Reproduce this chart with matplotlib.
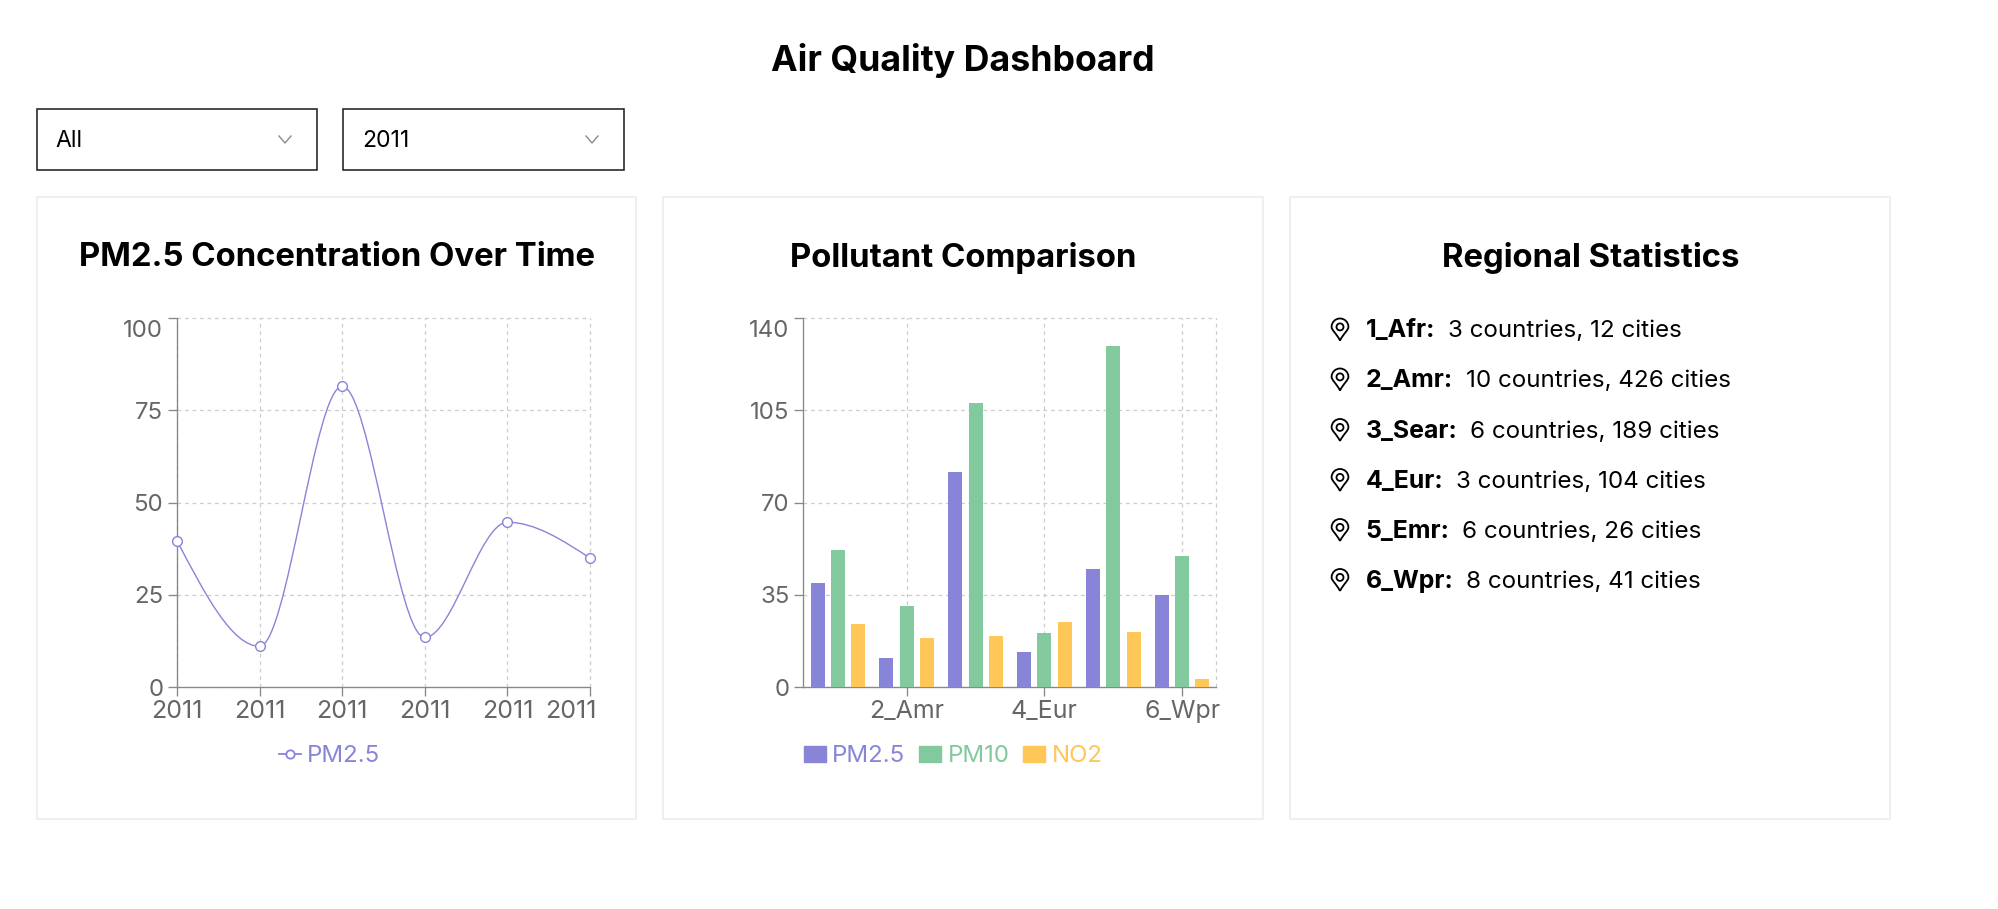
import matplotlib
matplotlib.use("Agg")
import matplotlib.pyplot as plt
import numpy as np
from matplotlib.lines import Line2D
from matplotlib.patches import Patch, Rectangle, PathPatch, Circle
from matplotlib.path import Path
from matplotlib.transforms import ScaledTranslation

# ---- data ----
dashboard_title = "Air Quality Dashboard"
filter_values = ["All", "2011"]
regions = ["1_Afr", "2_Amr", "3_Sear", "4_Eur", "5_Emr", "6_Wpr"]
line_labels = ["2011", "2011", "2011", "2011", "2011", "2011"]
pm25 = [39.7, 11.1, 81.5, 13.5, 44.7, 35.0]
pm10 = [52.0, 30.8, 107.9, 20.7, 129.4, 49.9]
no2 = [23.9, 18.8, 19.6, 24.9, 21.0, 3.2]
countries = [3, 10, 6, 3, 6, 8]
cities = [12, 426, 189, 104, 26, 41]
line_yticks = [0, 25, 50, 75, 100]
bar_yticks = [0, 35, 70, 105, 140]

PURPLE, GREEN, ORANGE = "#8884d8", "#82ca9d", "#ffc658"
TICK_TXT, AXIS_C, GRID_C = "#666666", "#888888", "#cccccc"
W, H = 1999, 909
plt.rcParams["font.family"] = ["Inter", "DejaVu Sans"]
plt.rcParams["axes.unicode_minus"] = False
TICK_PT = 17.3
XTICK_PT = 18.0
STAT_PT = 17.4
STAT_BOLD_PT = 17.9

fig = plt.figure(figsize=(W / 100, H / 100), dpi=100, facecolor="white")
bg = fig.add_axes([0, 0, 1, 1], zorder=0)
bg.set_xlim(0, W)
bg.set_ylim(H, 0)
bg.axis("off")


def box(x0, y0, x1, y1, ec, lw):
    bg.add_patch(Rectangle((x0, y0), x1 - x0, y1 - y0, fc="white", ec=ec, lw=lw))


# page title
bg.text(963, 61, dashboard_title, ha="center", va="center", fontsize=25.7, fontweight="bold", color="black")

# dropdowns
for (x0, x1), value in zip([(37, 317.5), (343.5, 624.5)], filter_values):
    box(x0, 108.5, x1, 170, "#222222", 1.15)
    bg.text(x0 + 18.5, 141, value, ha="left", va="center", fontsize=16.6, color="black")
    cx = x1 - 32.5
    bg.plot([cx - 6, cx, cx + 6], [136, 143, 136], color="#8a8a8a", lw=1.0)

# cards
card_titles = ["PM2.5 Concentration Over Time", "Pollutant Comparison", "Regional Statistics"]
for (x0, x1), t in zip([(37, 636.5), (663.5, 1263.5), (1290.5, 1890.5)], card_titles):
    box(x0, 196.5, x1, 818.5, "#eeeeee", 1.3)
    bg.text((x0 + x1) / 2, 257.5, t, ha="center", va="center", fontsize=23.7, fontweight="bold", color="black")


def chart_axes(x0, x1, y0=318.0, y1=687.3):
    ax = fig.add_axes([x0 / W, 1 - y1 / H, (x1 - x0) / W, (y1 - y0) / H], zorder=2)
    ax.patch.set_alpha(0)
    for s in ("top", "right"):
        ax.spines[s].set_visible(False)
    for s in ("left", "bottom"):
        ax.spines[s].set_color(AXIS_C)
        ax.spines[s].set_linewidth(0.95)
    ax.tick_params(length=6.3, width=0.95, color=AXIS_C, labelcolor=TICK_TXT)
    ax.tick_params(axis="y", pad=3.6, labelsize=TICK_PT)
    ax.tick_params(axis="x", pad=2.5, labelsize=XTICK_PT)
    ax.set_axisbelow(True)
    ax.grid(True, color=GRID_C, lw=0.9, linestyle=(0, (3, 3)), clip_on=False)
    for gl in ax.get_xgridlines() + ax.get_ygridlines():
        gl.set_clip_on(False)
    return ax


def monotone_path(x, y):
    """Cubic segments with the monotone-x tangents used by the original chart."""
    x, y = np.asarray(x, float), np.asarray(y, float)
    h = np.diff(x)
    s = np.diff(y) / h
    t = np.zeros_like(y)
    for i in range(1, len(y) - 1):
        p = (s[i - 1] * h[i] + s[i] * h[i - 1]) / (h[i - 1] + h[i])
        t[i] = (np.sign(s[i - 1]) + np.sign(s[i])) * min(abs(s[i - 1]), abs(s[i]), 0.5 * abs(p))
    t[0] = (3 * s[0] - t[1]) / 2
    t[-1] = (3 * s[-1] - t[-2]) / 2
    verts, codes = [(x[0], y[0])], [Path.MOVETO]
    for i in range(len(h)):
        d = h[i] / 3
        verts += [(x[i] + d, y[i] + d * t[i]), (x[i + 1] - d, y[i + 1] - d * t[i + 1]), (x[i + 1], y[i + 1])]
        codes += [Path.CURVE4] * 3
    return Path(verts, codes)


def shift_label(lbl, dx_px, dy_px):
    lbl.set_transform(lbl.get_transform() + ScaledTranslation(dx_px / 100, dy_px / 100, fig.dpi_scale_trans))


# line chart
ax1 = chart_axes(177.0, 590.0)
xs = np.arange(len(pm25))
ax1.set_xlim(0, 5)
ax1.set_ylim(0, 100)
ax1.set_xticks(xs, line_labels)
ax1.set_yticks(line_yticks)
ax1.add_patch(PathPatch(monotone_path(xs, pm25), fc="none", ec=PURPLE, lw=1.0, clip_on=False))
ax1.plot(xs, pm25, ls="none", marker="o", ms=7.0, mfc="white", mec=PURPLE, mew=1.0, clip_on=False, zorder=4)
shift_label(ax1.get_xticklabels()[-1], -18.7, 0)
ax1.get_yticklabels()[-1].set_verticalalignment("top")
shift_label(ax1.get_yticklabels()[-1], 0, -2.0)
for lbl in ax1.get_xticklabels():
    lbl.set_clip_on(False)
h1 = Line2D([], [], color=PURPLE, lw=1.3, marker="o", ms=6.0, mfc="white", mec=PURPLE, mew=1.3)
leg = ax1.legend([h1], ["PM2.5"], loc="center left", bbox_to_anchor=(279, 756.5), bbox_transform=bg.transData,
                 frameon=False, fontsize=TICK_PT, borderpad=0, borderaxespad=0, handlelength=0.9,
                 handletextpad=0.27)
for t in leg.get_texts():
    t.set_color(PURPLE)

# bar chart
ax2 = chart_axes(803.5, 1216.5)
xb = np.arange(len(regions))
bar_w, off = 0.2034, 0.2955
ax2.set_xlim(-0.5, 5.5)
ax2.set_ylim(0, 140)
ax2.set_yticks(bar_yticks)
ax2.set_xticks(xb[1::2], regions[1::2])
ax2.axvline(5.5, color=GRID_C, lw=0.9, linestyle=(0, (3, 3)), clip_on=False, zorder=0.5)
ax2.bar(xb - off, pm25, bar_w, color=PURPLE, zorder=3, label="PM2.5")
ax2.bar(xb, pm10, bar_w, color=GREEN, zorder=3, label="PM10")
ax2.bar(xb + off, no2, bar_w, color=ORANGE, zorder=3, label="NO2")
ax2.get_yticklabels()[-1].set_verticalalignment("top")
shift_label(ax2.get_yticklabels()[-1], 0, -2.0)
handles = [Patch(color=c) for c in (PURPLE, GREEN, ORANGE)]
leg2 = ax2.legend(handles, ["PM2.5", "PM10", "NO2"], loc="center left", bbox_to_anchor=(804, 756.5),
                  bbox_transform=bg.transData, frameon=False, fontsize=TICK_PT, ncol=3, borderpad=0,
                  borderaxespad=0, handlelength=0.9, handleheight=0.63, handletextpad=0.27, columnspacing=0.58)
for t, c in zip(leg2.get_texts(), (PURPLE, GREEN, ORANGE)):
    t.set_color(c)


# regional statistics
def pin(cx, cy):
    w, hh = 8.4, 11.0
    verts = [(cx, cy + hh), (cx - w * 0.45, cy + 3.5), (cx - w, cy + 0.8), (cx - w, cy - 2.6),
             (cx - w, cy - 7.6), (cx - 4.5, cy - hh), (cx, cy - hh), (cx + 4.5, cy - hh),
             (cx + w, cy - 7.6), (cx + w, cy - 2.6), (cx + w, cy + 0.8), (cx + w * 0.45, cy + 3.5),
             (cx, cy + hh)]
    codes = [Path.MOVETO] + [Path.CURVE4] * 12
    bg.add_patch(PathPatch(Path(verts, codes), fc="none", ec="black", lw=1.3, joinstyle="round"))
    bg.add_patch(Circle((cx, cy - 2.6), 3.5, fc="none", ec="black", lw=1.3))


row_ys = [329.5, 379.5, 430, 480, 530, 580]
renderer = fig.canvas.get_renderer()
for name, n_c, n_t, y in zip(regions, countries, cities, row_ys):
    pin(1340, y)
    b = bg.text(1365.5, y + 1.5, f"{name}:", ha="left", va="center", fontsize=STAT_BOLD_PT, fontweight="bold", color="black")
    x_end = bg.transData.inverted().transform(b.get_window_extent(renderer).get_points())[1, 0]
    bg.text(x_end + 13, y + 1.5, f"{n_c} countries, {n_t} cities", ha="left", va="center", fontsize=STAT_PT, color="black")

fig.savefig("out.png", dpi=100)
